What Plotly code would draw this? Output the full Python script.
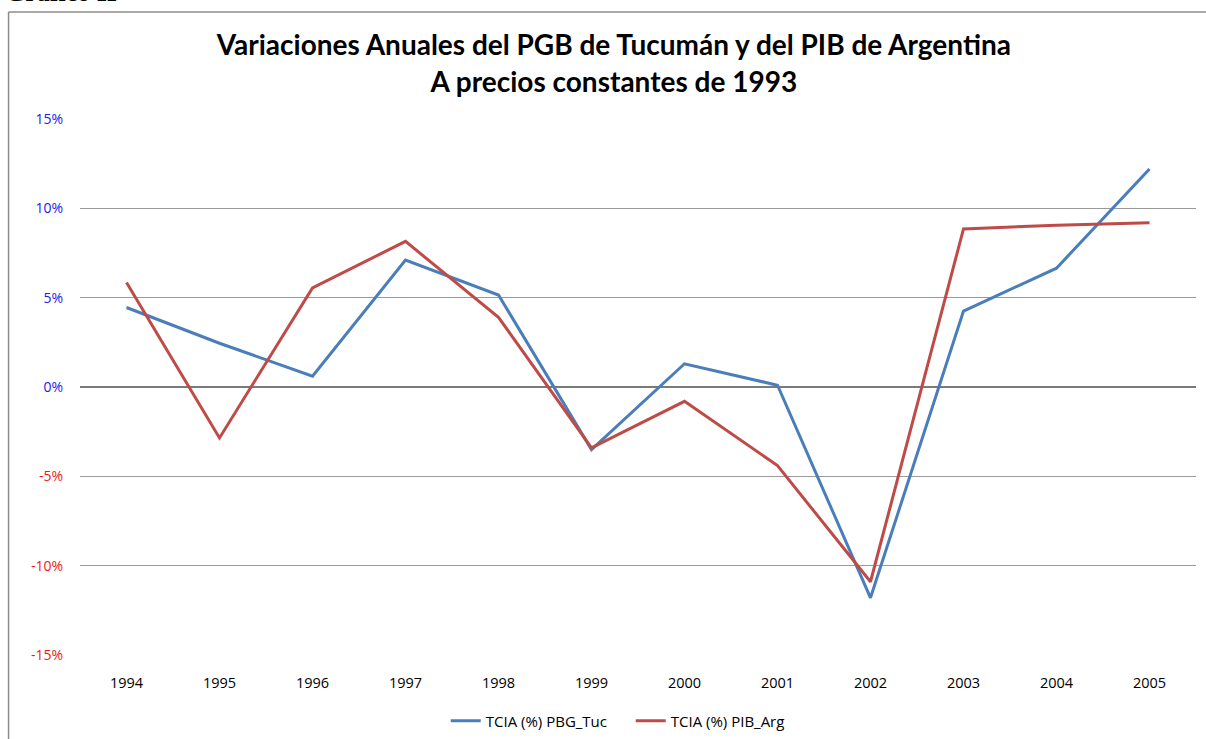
import plotly.graph_objects as go

# Data
years = ["1994", "1995", "1996", "1997", "1998", "1999", "2000", "2001", "2002", "2003", "2004", "2005"]
pbg_tuc = [4.45, 2.45, 0.6, 7.1, 5.15, -3.5, 1.3, 0.1, -11.8, 4.25, 6.65, 12.2]
pib_arg = [5.85, -2.85, 5.55, 8.15, 3.9, -3.4, -0.8, -4.4, -10.9, 8.85, 9.05, 9.2]

tick_vals = [15, 10, 5, 0, -5, -10, -15]
tick_text = [
    "<span style='color:#2020F0'>15%</span>",
    "<span style='color:#2020F0'>10%</span>",
    "<span style='color:#2020F0'>5%</span>",
    "<span style='color:#2020F0'>0%</span>",
    "<span style='color:#F01818'>-5%</span>",
    "<span style='color:#F01818'>-10%</span>",
    "<span style='color:#F01818'>-15%</span>",
]

W, H = 1206, 739
L, R, T, B = 79.5, 9.5, 119, 84

fig = go.Figure()
fig.add_trace(go.Scatter(x=years, y=pbg_tuc, mode="lines", name="TCIA (%) PBG_Tuc",
                         line=dict(color="#4A7EBB", width=3)))
fig.add_trace(go.Scatter(x=years, y=pib_arg, mode="lines", name="TCIA (%) PIB_Arg",
                         line=dict(color="#BE4B48", width=3)))

# convert page pixels to paper coords
pw, ph = W - L - R, H - T - B
def px_x(v):
    return (v - L) / pw
def px_y(v):
    return (H - B - v) / ph

# chart frame (left and top border of the embedded chart)
fig.add_shape(type="line", xref="paper", yref="paper",
              x0=px_x(8), x1=px_x(8), y0=px_y(12), y1=px_y(745),
              line=dict(color="#8C8C8C", width=1.5))
fig.add_shape(type="line", xref="paper", yref="paper",
              x0=px_x(8), x1=px_x(1215), y0=px_y(12), y1=px_y(12),
              line=dict(color="#8C8C8C", width=1.5))

# heading above the chart, cut by the top edge as in the source
fig.add_annotation(text="<b>Gráfico II</b>", xref="paper", yref="paper",
                   x=px_x(2), y=px_y(9), xanchor="left", yanchor="bottom",
                   showarrow=False, font=dict(family="Liberation Serif", size=26, color="black"))

fig.update_layout(
    width=W, height=H,
    margin=dict(l=L, r=R, t=T, b=B),
    paper_bgcolor="white", plot_bgcolor="white",
    title=dict(text="<b>Variaciones Anuales del PGB de Tucumán y del PIB de Argentina<br>A precios constantes de 1993</b>",
               x=0.509, xanchor="center", y=0.925, yanchor="top",
               font=dict(family="Lato", size=28, color="black")),
    font=dict(family="Open Sans", size=13, color="black"),
    xaxis=dict(type="category", showgrid=False, zeroline=False, showline=False,
               ticks="", tickfont=dict(size=14.5), ticklabelstandoff=17, range=[-0.5, 11.5]),
    yaxis=dict(range=[-15, 15], tickvals=tick_vals, ticktext=tick_text,
               showgrid=True, gridcolor="#9A9A9A", gridwidth=1,
               zeroline=True, zerolinecolor="#7A7A7A", zerolinewidth=1.5,
               ticks="", tickfont=dict(size=14), ticklabelstandoff=16, showline=False),
    legend=dict(orientation="h", x=0.523, xanchor="center", xref="container",
                y=(H - 721) / H, yanchor="middle", yref="container",
                font=dict(size=15), entrywidth=140, traceorder="normal"),
)

# drop the default body margin so the figure sits at the page corner
fig.write_html("out.html", config={"displayModeBar": False},
               post_script="document.body.style.margin='0';")
